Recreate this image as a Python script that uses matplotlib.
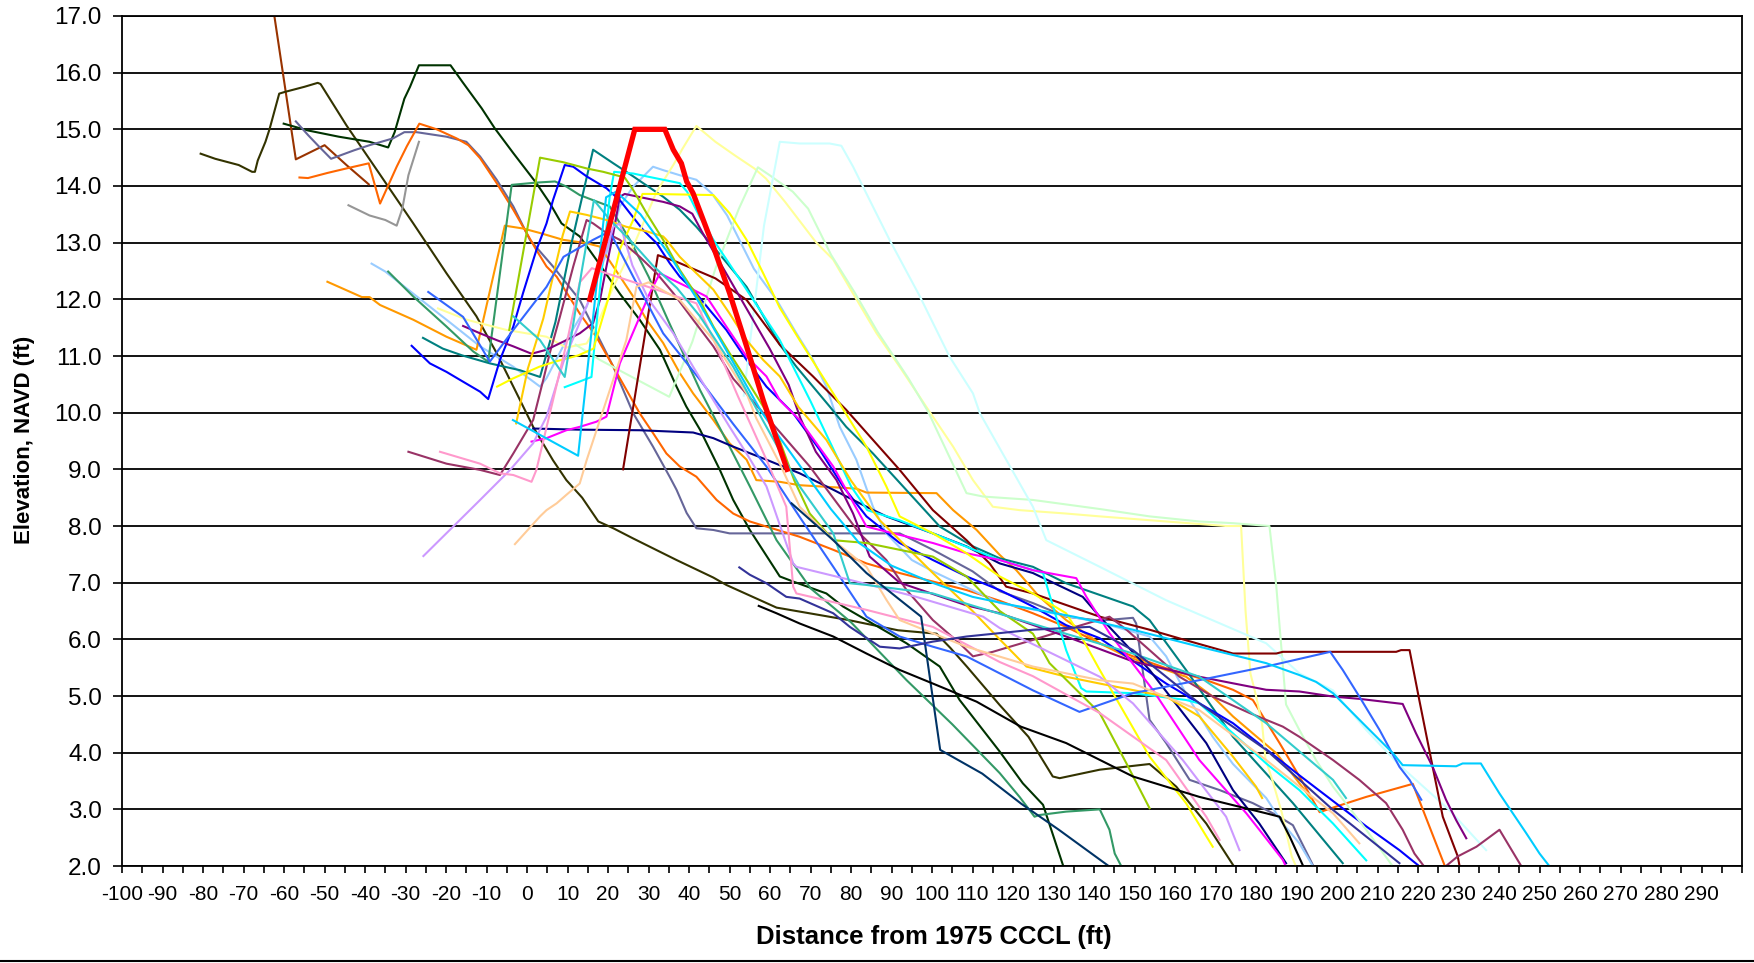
import matplotlib
matplotlib.use("Agg")
import matplotlib.pyplot as plt
from matplotlib.lines import Line2D

plt.rcParams['font.family'] = ['Liberation Sans', 'DejaVu Sans']

# beach profiles: distance from 1975 CCCL (ft) vs elevation NAVD (ft)
p01_x = [-63.0, -62.4, -57.1, -50.0, -44.6, -39.1]
p01_y = [17.4, 17.0, 14.47, 14.72, 14.37, 14.03]

p02_x = [-80.6, -77.0, -71.2, -67.9, -67.2, -66.5, -64.6, -63.6, -61.2, -59.8, -55.0, -51.7, -51.0,
         -44.6, -36.3, -28.1, -19.9, -12.5, -7.5, -1.8, 1.5, 6.4, 9.7, 13.6, 17.6, 21.3, 26.2, 36.9,
         46.0, 49.2, 61.6, 67.3, 79.4, 91.6, 101.1, 104.5, 108.7, 116.7, 123.8, 129.8, 131.5, 141.4,
         151.2, 153.7, 160.3, 167.7, 174.3]
p02_y = [14.57, 14.48, 14.37, 14.25, 14.25, 14.45, 14.78, 15.0, 15.63, 15.66, 15.75, 15.82, 15.8,
         15.07, 14.2, 13.34, 12.46, 11.7, 11.05, 10.23, 9.75, 9.16, 8.81, 8.5, 8.08, 7.96, 7.78, 7.40,
         7.09, 6.96, 6.56, 6.49, 6.34, 6.16, 6.1, 5.85, 5.51, 4.84, 4.28, 3.58, 3.55, 3.7,
         3.78, 3.80, 3.40, 2.75, 2.02]

p03_x = [-60.1, -54.1, -46.5, -38.9, -34.3, -32.7, -30.3, -28.9, -26.7, -18.9, -16.0, -11.2, -8.0,
         -3.4, 2.3, 5.6, 8.5, 13.0, 17.1, 22.9, 27.8, 32.8, 36.9, 39.3, 42.7, 47.6, 50.9, 55.0, 62.4,
         65.7, 73.9, 78.0, 83.8, 93.7, 101.9, 106.8, 116.7, 122.4, 127.4, 132.3]
p03_y = [15.1, 14.98, 14.87, 14.78, 14.68, 14.95, 15.54, 15.75, 16.13, 16.13, 15.84, 15.37, 15.02,
         14.58, 14.05, 13.7, 13.34, 13.11, 12.7, 12.1, 11.64, 11.11, 10.46, 10.11, 9.7, 8.99, 8.46, 7.93, 7.11,
         7.02, 6.81, 6.58, 6.34, 5.93, 5.52, 4.93, 4.02, 3.46, 3.08, 2.02]

p04_x = [-57.1, -54.1, -51.7, -48.4, -46.5, -42.7, -38.9, -33.1, -30.3, -27.3, -19.9, -15.0, -11.6,
         -7.5, -3.4, 0.7, 6.4, 13.0, 16.3, 21.3, 26.2, 31.1, 35.2, 36.9, 39.4, 41.8, 46.0, 50.0, 92.0,
         100.2, 110.0, 116.7, 124.9, 133.1, 141.4, 149.6, 150.4, 153.7, 157.8, 163.6, 171.0, 179.2,
         185.0, 189.1, 194.0]
p04_y = [15.14, 14.9, 14.72, 14.48, 14.53, 14.63, 14.72, 14.84, 14.95, 14.95, 14.87, 14.78, 14.52,
         14.11, 13.64, 13.05, 12.58, 11.99, 11.52, 10.81, 9.99, 9.4, 8.87, 8.64, 8.23, 7.96, 7.93, 7.87, 7.87,
         7.58, 7.2, 6.85, 6.64, 6.4, 6.33, 6.38, 6.28, 4.58, 4.17, 3.52, 3.34, 3.11,
         2.9, 2.72, 2.02]

p05_x = [-56.2, -54.1, -49.3, -44.6, -39.1, -36.3, -32.2, -29.7, -26.6, -22.3, -17.4, -14.5, -11.6,
         -7.5, -3.4, 2.3, 4.8, 7.3, 13.0, 17.1, 21.3, 27.8, 31.1, 34.4, 37.7, 41.8, 46.8, 50.9, 55.0,
         59.1, 67.3, 75.6, 83.8, 92.0, 100.2, 108.5, 116.7, 124.9, 133.1, 141.4, 149.6, 157.8, 167.7,
         174.3, 179.2, 181.7, 185.8, 190.7, 195.7, 199.8, 207.2, 218.7, 226.5]
p05_y = [14.15, 14.14, 14.23, 14.31, 14.4, 13.69, 14.34, 14.7, 15.1, 15.0, 14.84, 14.72, 14.49,
         14.05, 13.58, 12.87, 12.58, 12.4, 11.75, 11.34, 10.81, 9.99, 9.64, 9.28, 9.05, 8.87, 8.46, 8.22, 8.08,
         7.99, 7.81, 7.58, 7.34, 7.17, 7.02, 6.87, 6.68, 6.46, 6.22, 5.93, 5.7, 5.49, 5.28,
         5.11, 4.93, 4.64, 4.17, 3.58, 2.95, 3.05, 3.22, 3.45, 2.02]

p06_x = [-44.1, -38.9, -35.0, -32.2, -30.8, -29.3, -26.7]
p06_y = [13.66, 13.48, 13.4, 13.3, 13.6, 14.19, 14.78]

p07_x = [-38.4, -35.0, -28.1, -19.9, -11.6, -3.4, 3.2, 4.8, 9.7, 14.7, 19.6, 22.9, 26.2, 31.1, 33.6,
         37.7, 41.8, 45.6, 49.4, 56.0, 61.6, 66.5, 70.6, 73.9, 77.2, 81.3, 85.4, 88.7, 95.0, 100.2,
         116.7, 141.4, 153.7, 157.8, 163.0, 169.3, 174.3, 182.5, 186.6, 190.7, 194.0]
p07_y = [12.63, 12.49, 12.1, 11.64, 11.17, 10.81, 10.46, 10.61, 11.28, 11.87, 12.81, 13.64, 13.99, 14.34, 14.28,
         14.19, 14.11, 13.87, 13.48, 12.54, 11.99, 11.4, 10.93, 10.46, 9.75, 9.17, 8.34, 7.87, 7.4, 7.2,
         6.64, 6.3, 6.05, 5.7, 5.0, 4.28, 3.8, 3.2, 2.75, 2.4, 2.0]

p08_x = [-49.3, -40.8, -38.9, -36.3, -28.1, -19.9, -12.5, -5.5, -1.0, 3.2, 8.9, 14.7, 18.0, 21.3, 26.2,
         29.5, 33.6, 37.7, 41.0, 46.0, 50.0, 54.2, 56.6, 62.4, 67.3, 81.3, 83.8, 101.1, 105.2, 111.0,
         116.7, 120.8, 126.5, 133.1, 141.4, 147.9, 155.3, 162.7, 169.3, 174.3, 179.2, 185.0, 190.7, 193.5]
p08_y = [12.31, 12.04, 12.04, 11.9, 11.64, 11.34, 11.11, 13.3, 13.25, 13.17, 13.05, 12.99, 12.93, 12.58, 12.05,
         11.64, 11.23, 10.7, 10.34, 9.87, 9.46, 9.17, 8.81, 8.78, 8.72, 8.66, 8.59, 8.58, 8.28, 7.93,
         7.49, 7.22, 6.75, 6.34, 5.93, 5.7, 5.52, 5.34, 4.99, 4.64, 4.34, 3.99, 3.46, 3.2]

p09_x = [-34.3, -28.1, -19.9, -13.3, -9.6, -3.8, 2.3, 6.9, 9.7, 13.0, 16.3, 20.4, 25.4, 30.0, 35.0,
         42.7, 50.0, 55.0, 61.6, 70.0, 80.0, 93.7, 105.0, 116.7, 121.6, 125.3, 126.5, 133.1, 141.4,
         143.8, 145.1, 146.7]
p09_y = [12.49, 12.05, 11.52, 11.08, 10.9, 14.02, 14.06, 14.08, 13.99, 13.84, 13.75, 13.64, 13.05, 12.4, 11.6,
         10.4, 9.4, 8.7, 7.75, 6.9, 6.3, 5.28, 4.5, 3.64, 3.22, 2.87, 2.9, 2.96, 3.0,
         2.64, 2.22, 2.0]

p10_x = [-25.7, -20.8, -16.0, -9.2, -1.8, 3.2, 7.0, 11.0, 16.3, 21.3, 26.2, 33.6, 37.7, 41.8, 46.0,
         54.2, 62.4, 66.5, 70.6, 74.7, 78.8, 85.4, 101.9, 110.1, 116.7, 124.9, 133.1, 149.6, 153.7,
         162.7, 174.3, 189.1, 201.4]
p10_y = [11.32, 11.13, 11.01, 10.87, 10.75, 10.63, 11.6, 13.0, 14.64, 14.4, 14.17, 13.81, 13.58, 13.28, 12.93,
         12.22, 11.2, 10.81, 10.46, 10.11, 9.75, 9.28, 7.99, 7.64, 7.43, 7.28, 6.99, 6.58, 6.34,
         5.46, 4.28, 3.11, 2.05]

p11_x = [-28.5, -24.0, -19.9, -16.6, -11.6, -9.6, -6.7, -3.4, -1.0, 2.3, 4.8, 6.4, 9.3, 11.4, 14.7,
         19.6, 22.9, 25.4, 28.7, 32.0, 35.2, 37.7, 41.0, 45.1, 49.2, 54.2, 59.1, 65.7, 72.3, 78.0, 83.8,
         92.0, 100.2, 108.5, 116.7, 124.9, 133.1, 141.4, 157.8, 174.3, 190.7, 207.2, 215.4, 219.9]
p11_y = [11.18, 10.87, 10.72, 10.58, 10.37, 10.24, 10.93, 11.52, 12.11, 12.87, 13.34, 13.75, 14.37, 14.34, 14.17,
         13.96, 13.75, 13.52, 13.22, 12.99, 12.64, 12.4, 12.17, 11.81, 11.46, 10.93, 10.46, 9.99, 9.34, 8.7, 8.17,
         7.7, 7.4, 7.11, 6.87, 6.58, 6.25, 6.02, 5.22, 4.52, 3.6, 2.7, 2.28, 2.02]

p12_x = [1.5, 13.0, 27.8, 41.0, 46.0, 50.9, 59.1, 67.3, 75.6, 83.8, 88.7, 100.2, 108.5, 116.7, 124.9,
         137.2, 141.4, 153.7, 167.7, 174.3, 180.8, 187.4]
p12_y = [9.72, 9.7, 9.69, 9.65, 9.55, 9.4, 9.17, 8.93, 8.64, 8.34, 8.17, 7.87, 7.64, 7.34, 7.17,
         6.75, 6.4, 5.46, 4.17, 3.34, 2.75, 2.05]

p13_x = [-22.0, -14.9, -5.1, 4.8, 9.7, 14.7, 17.1, 21.3, 26.2, 32.0, 36.1, 38.4, 41.8, 46.5, 51.3,
         56.1, 59.0, 63.7, 71.3, 75.6, 80.5, 86.3, 92.0, 98.6, 105.2, 110.1, 115.0, 121.6, 133.1, 141.4,
         157.8, 172.6, 176.3, 177.4, 178.6, 180.0, 181.5, 182.3, 184.0, 186.4, 188.8, 189.7]
p13_y = [11.84, 11.64, 11.46, 11.34, 11.15, 11.22, 11.52, 12.22, 12.93, 13.9, 14.37, 14.66, 15.06, 14.78, 14.54,
         14.31, 14.13, 13.72, 13.01, 12.7, 12.1, 11.4, 10.81, 10.1, 9.4, 8.81, 8.34, 8.28, 8.22, 8.17,
         8.08, 8.0, 8.0, 6.5, 5.4, 5.0, 4.5, 3.9, 3.52, 2.93, 2.17, 2.02]

p14_x = [12.0, 18.0, 35.1, 40.8, 46.5, 52.3, 57.0, 59.9, 65.6, 69.4, 75.1, 80.8, 86.5, 94.2, 99.0,
         105.6, 108.5, 112.6, 124.9, 141.4, 153.7, 166.0, 174.3, 183.3, 185.0, 187.4, 190.7, 194.8,
         199.0, 207.2, 213.5]
p14_y = [11.2, 10.93, 10.28, 11.25, 12.54, 13.6, 14.33, 14.19, 13.9, 13.6, 12.78, 12.13, 11.43, 10.6, 10.02,
         9.02, 8.58, 8.52, 8.46, 8.3, 8.17, 8.08, 8.05, 8.0, 6.93, 4.85, 4.4, 3.87,
         3.4, 2.64, 2.02]

p15_x = [53.5, 55.0, 58.5, 62.4, 67.3, 74.7, 77.6, 80.5, 84.6, 89.5, 97.0, 104.3, 110.1, 111.8, 118.3,
         124.9, 128.2, 141.4, 157.8, 182.5, 190.7, 199.0, 207.2, 215.4, 227.7, 236.8]
p15_y = [10.3, 11.22, 13.3, 14.78, 14.75, 14.75, 14.71, 14.34, 13.75, 13.05, 12.05, 10.99, 10.34, 9.99, 9.17,
         8.34, 7.75, 7.28, 6.69, 5.93, 5.4, 5.1, 4.4, 3.78, 2.99, 2.28]

p16_x = [23.7, 32.3, 37.0, 46.5, 54.2, 62.4, 70.6, 78.8, 85.4, 92.0, 100.2, 108.5, 114.2, 118.3, 124.9,
         141.4, 153.7, 161.9, 174.3, 185.0, 186.6, 214.6, 215.8, 217.9, 220.3, 223.6, 226.1, 229.8, 230.5]
p16_y = [9.0, 12.78, 12.66, 12.37, 11.99, 11.2, 10.64, 10.05, 9.52, 8.99, 8.28, 7.75, 7.34, 6.93, 6.81,
         6.4, 6.17, 6.0, 5.75, 5.75, 5.78, 5.78, 5.81, 5.81, 4.93, 3.75, 2.87, 2.17, 1.9]

p17_x = [-29.3, -19.9, -11.6, -6.7, -3.4, 1.5, 4.0, 5.6, 8.1, 11.4, 14.7, 16.3, 19.6, 22.9, 27.8, 32.0,
         36.1, 41.0, 46.0, 50.9, 59.1, 69.8, 77.2, 82.1, 88.7, 93.7, 100.2, 106.8, 110.1, 115.0, 124.9,
         133.1, 143.8, 148.0, 153.7, 161.1, 169.3, 178.4, 186.6, 190.7, 199.0, 205.5, 212.1, 216.2,
         219.1, 221.2]
p17_y = [9.31, 9.1, 8.99, 8.9, 9.28, 9.87, 10.58, 11.05, 11.69, 12.58, 13.4, 13.34, 13.17, 13.05, 12.75, 12.46,
         12.11, 11.64, 11.17, 10.6, 9.93, 9.05, 8.34, 7.87, 7.4, 6.87, 6.34, 5.93, 5.7, 5.78, 5.99,
         6.17, 6.4, 6.17, 5.81, 5.34, 4.99, 4.7, 4.46, 4.28, 3.87, 3.52, 3.11, 2.64,
         2.22, 2.02]

p18_x = [224.5, 226.9, 229.8, 234.4, 240.1, 245.3]
p18_y = [1.85, 2.0, 2.17, 2.34, 2.64, 2.02]

p19_x = [-15.8, -11.6, -7.5, -3.4, 1.1, 4.8, 9.7, 13.0, 16.3, 18.0, 19.6, 21.3, 22.9, 24.1, 29.5, 33.6,
         37.7, 40.8, 43.2, 49.4, 56.1, 59.9, 64.6, 67.5, 71.3, 76.4, 80.5, 84.6, 92.0, 100.2, 108.5,
         116.7, 133.1, 149.6, 166.0, 182.5, 190.7, 199.0, 205.5, 216.2, 219.5, 223.6, 226.9, 229.4, 231.9]
p19_y = [11.53, 11.4, 11.28, 11.17, 11.04, 11.11, 11.28, 11.4, 11.58, 11.99, 12.58, 13.17, 13.81, 13.86, 13.78, 13.72,
         13.64, 13.51, 13.19, 12.43, 11.6, 11.13, 10.49, 9.9, 9.31, 8.81, 8.22, 7.46, 7.0, 6.8, 6.6,
         6.46, 6.05, 5.61, 5.34, 5.11, 5.08, 4.99, 4.95, 4.86, 4.34, 3.75, 3.17, 2.81, 2.49]

p20_x = [9.3, 13.0, 15.9, 18.0, 20.4, 21.5, 26.2, 29.5, 37.7, 39.5, 42.6, 46.0, 54.2, 62.4, 70.0, 76.0,
         80.0, 84.0, 92.0, 100.2, 116.7, 127.4, 133.1, 136.8, 138.1, 149.6, 162.7, 166.0, 174.3, 182.5,
         190.7, 199.0, 207.2]
p20_y = [10.45, 10.55, 10.63, 12.2, 13.81, 14.25, 14.22, 14.17, 14.05, 13.9, 13.46, 13.05, 12.17, 11.28, 10.2, 9.3,
         8.7, 8.28, 8.1, 7.87, 7.4, 7.17, 5.81, 5.14, 5.08, 5.05, 4.93, 4.87, 4.34, 3.81,
         3.34, 2.75, 2.1]

p21_x = [1.1, 4.8, 9.7, 13.0, 17.1, 19.6, 22.9, 27.8, 30.3, 32.8, 36.1, 41.0, 44.3, 49.2, 54.2, 59.1,
         62.4, 67.3, 75.6, 83.8, 87.1, 100.2, 108.5, 116.7, 124.9, 135.6, 138.1, 143.8, 154.5, 166.0,
         177.6, 180.8, 186.6, 187.3]
p21_y = [9.49, 9.55, 9.69, 9.75, 9.84, 9.93, 10.87, 11.69, 12.11, 12.46, 12.34, 12.17, 12.05, 11.52, 10.99, 10.64,
         10.22, 9.87, 9.05, 7.99, 7.93, 7.7, 7.52, 7.4, 7.22, 7.08, 6.75, 6.11, 5.11, 3.87,
         2.93, 2.64, 2.11, 2.0]

p22_x = [-7.4, -3.6, 3.0, 6.9, 12.6, 16.4, 20.0, 23.0, 26.2, 28.5, 30.3, 46.0, 50.0, 54.2, 58.3, 62.4,
         67.3, 75.6, 83.8, 88.7, 92.0, 100.2, 108.5, 116.7, 124.9, 133.1, 137.3, 141.4, 153.7, 162.7, 169.3]
p22_y = [10.46, 10.6, 10.81, 10.9, 11.01, 11.13, 12.0, 12.9, 13.4, 13.86, 13.86, 13.84, 13.52, 13.05, 12.46, 11.85,
         11.28, 10.34, 9.4, 8.7, 8.17, 7.87, 7.52, 7.11, 6.81, 6.46, 5.99, 5.46, 3.93, 3.11, 2.34]

p23_x = [-2.7, 0.2, 4.0, 5.9, 8.8, 10.6, 14.7, 19.6, 24.5, 29.5, 33.6, 34.4, 37.7, 41.8, 46.0, 50.0,
         54.2, 58.3, 62.4, 67.0, 73.9, 80.0, 87.1, 100.2, 110.0, 116.7, 123.3, 133.1, 141.4, 157.8,
         166.0, 174.3, 180.0, 181.5]
p23_y = [9.81, 10.78, 11.66, 12.25, 13.13, 13.55, 13.49, 13.4, 13.28, 13.2, 13.11, 13.05, 12.75, 12.46, 12.17, 11.75,
         11.28, 10.93, 10.64, 10.1, 9.52, 8.8, 8.1, 7.17, 6.5, 6.0, 5.52, 5.34, 5.22, 4.99,
         4.64, 3.93, 3.4, 3.2]

p24_x = [-4.4, 3.2, 8.9, 14.7, 18.8, 24.1, 26.2, 29.5, 33.6, 37.7, 42.6, 46.0, 50.0, 54.2, 58.3, 62.4,
         66.0, 69.8, 75.6, 83.8, 92.0, 100.2, 108.5, 116.7, 124.9, 129.0, 141.4, 148.0, 153.7]
p24_y = [11.46, 14.5, 14.42, 14.31, 14.25, 14.15, 13.93, 13.52, 13.05, 12.52, 11.99, 11.52, 11.05, 10.58, 10.11, 9.5,
         8.8, 8.22, 7.75, 7.7, 7.58, 7.46, 7.11, 6.5, 6.1, 5.58, 4.7, 3.81, 3.02]

p25_x = [-24.4, -15.8, -9.2, -3.4, 4.8, 9.0, 16.3, 20.4, 26.2, 33.6, 42.7, 50.9, 59.1, 67.3, 75.6, 83.8,
         92.0, 100.2, 108.5, 116.7, 124.9, 136.4, 149.6, 166.0, 182.5, 198.3, 201.4, 205.5, 210.5, 215.4,
         217.9, 220.8]
p25_y = [12.13, 11.69, 10.9, 11.46, 12.22, 12.75, 13.05, 13.2, 12.4, 11.4, 10.58, 9.8, 9.05, 8.16, 7.28, 6.4,
         6.05, 5.87, 5.7, 5.4, 5.1, 4.72, 5.05, 5.28, 5.52, 5.78, 5.46, 4.99, 4.4, 3.75,
         3.52, 3.17]

p26_x = [-25.6, -11.6, -4.2, 1.5, 4.8, 9.0, 16.3, 21.3, 22.9, 26.0, 30.0, 36.1, 41.0, 46.0, 50.0, 54.2,
         59.1, 65.7, 66.5, 79.7, 96.1, 112.6, 116.7, 141.4, 149.6, 161.9, 172.6, 175.9]
p26_y = [7.47, 8.46, 8.99, 9.46, 9.93, 10.9, 12.16, 13.28, 13.34, 12.6, 12.0, 11.4, 10.81, 10.22, 9.75, 9.28,
         8.7, 7.34, 7.28, 7.05, 6.75, 6.4, 6.2, 5.34, 4.87, 3.87, 2.87, 2.28]

p27_x = [-21.5, -11.6, -6.7, -3.4, 1.1, 2.3, 6.4, 10.0, 13.0, 16.0, 19.6, 32.0, 41.8, 46.0, 52.0, 59.1,
         64.0, 65.7, 66.5, 83.8, 100.2, 116.7, 124.9, 141.4, 157.8, 167.7, 171.0]
p27_y = [9.31, 9.1, 8.93, 8.9, 8.78, 8.99, 10.22, 11.3, 12.3, 12.55, 12.46, 12.17, 11.93, 11.3, 10.3, 9.17,
         8.34, 6.93, 6.81, 6.52, 6.22, 5.6, 5.35, 4.7, 3.87, 2.87, 2.46]

p28_x = [-3.0, 3.2, 4.8, 7.3, 9.7, 13.0, 14.7, 19.6, 24.5, 27.0, 30.0, 37.7, 46.0, 54.2, 56.6, 62.4,
         67.3, 75.6, 83.8, 88.7, 92.0, 108.5, 124.9, 141.4, 149.6, 166.0, 182.5, 199.0, 205.5]
p28_y = [7.68, 8.17, 8.28, 8.4, 8.55, 8.75, 9.16, 10.22, 11.28, 12.22, 12.3, 11.99, 11.28, 10.34, 9.9, 9.1,
         8.34, 7.75, 7.28, 6.7, 6.34, 5.87, 5.52, 5.28, 5.22, 4.75, 3.87, 2.93, 2.4]

p29_x = [-3.4, 3.2, 9.3, 13.5, 16.5, 20.5, 26.0, 31.0, 37.0, 42.7, 50.9, 59.1, 67.3, 75.6, 79.7, 83.8,
         100.2, 116.7, 133.0, 149.6, 166.0, 182.5, 199.0, 202.2]
p29_y = [11.7, 11.28, 10.63, 12.5, 13.75, 13.4, 13.0, 12.6, 12.2, 11.7, 10.81, 9.75, 8.7, 7.87, 6.99, 6.96,
         6.81, 6.45, 6.1, 5.75, 5.34, 4.52, 3.52, 3.2]

p30_x = [-3.5, 12.6, 19.5, 22.0, 28.0, 35.0, 42.0, 50.0, 58.0, 66.0, 75.0, 82.0, 90.0, 100.0, 110.0,
         120.0, 135.0, 149.6, 166.0, 182.5, 190.7, 194.8, 199.0, 207.2, 213.8, 216.2, 229.4, 231.0, 235.5,
         240.1, 246.7, 250.0, 252.4]
p30_y = [9.87, 9.24, 13.8, 13.9, 13.5, 12.8, 12.0, 11.0, 10.0, 9.2, 8.3, 7.7, 7.3, 7.0, 6.75,
         6.6, 6.4, 6.17, 5.87, 5.58, 5.37, 5.25, 5.05, 4.46, 3.99, 3.78, 3.76, 3.81, 3.81,
         3.28, 2.58, 2.22, 2.0]

p31_x = [65.3, 75.6, 83.8, 92.0, 97.3, 102.0, 112.4, 122.0, 131.3, 143.6]
p31_y = [8.4, 7.75, 7.17, 6.7, 6.4, 4.05, 3.63, 3.1, 2.64, 2.0]

p32_x = [52.4, 55.0, 59.1, 64.0, 67.3, 75.6, 79.7, 87.1, 92.0, 100.2, 108.5, 116.7, 124.9, 133.1, 138.9,
         149.6, 166.0, 182.5, 199.0, 215.4]
p32_y = [7.27, 7.14, 6.99, 6.75, 6.72, 6.46, 6.22, 5.87, 5.84, 5.96, 6.05, 6.11, 6.17, 6.2, 6.22,
         5.81, 4.87, 4.05, 2.99, 2.05]

p33_x = [57.2, 61.6, 67.3, 75.6, 83.8, 92.0, 100.2, 111.0, 121.9, 133.1, 149.6, 166.0, 182.5, 185.8,
         188.3, 191.5]
p33_y = [6.59, 6.46, 6.28, 6.05, 5.75, 5.46, 5.22, 4.9, 4.46, 4.17, 3.58, 3.22, 2.93, 2.87,
         2.52, 2.02]

# proposed dune template
dune_x = [15.5, 26.6, 34.0, 36.1, 38.1, 39.4, 41.0, 46.0, 50.0, 54.2, 58.3, 64.2]
dune_y = [12.0, 15.0, 15.0, 14.64, 14.4, 14.08, 13.87, 12.93, 12.11, 11.17, 10.22, 9.0]

profiles = [
    (p01_x, p01_y, '#993300'), (p02_x, p02_y, '#333300'), (p03_x, p03_y, '#003300'),
    (p04_x, p04_y, '#666699'), (p05_x, p05_y, '#FF6600'), (p06_x, p06_y, '#969696'),
    (p07_x, p07_y, '#99CCFF'), (p08_x, p08_y, '#FF9900'), (p09_x, p09_y, '#339966'),
    (p10_x, p10_y, '#008080'), (p11_x, p11_y, '#0000FF'), (p12_x, p12_y, '#000080'),
    (p13_x, p13_y, '#FFFF99'), (p14_x, p14_y, '#CCFFCC'), (p15_x, p15_y, '#CCFFFF'),
    (p16_x, p16_y, '#800000'), (p17_x, p17_y, '#993366'), (p18_x, p18_y, '#993366'),
    (p19_x, p19_y, '#800080'), (p20_x, p20_y, '#00FFFF'), (p21_x, p21_y, '#FF00FF'),
    (p22_x, p22_y, '#FFFF00'), (p23_x, p23_y, '#FFCC00'), (p24_x, p24_y, '#99CC00'),
    (p25_x, p25_y, '#3366FF'), (p26_x, p26_y, '#CC99FF'), (p27_x, p27_y, '#FF99CC'),
    (p28_x, p28_y, '#FFCC99'), (p29_x, p29_y, '#33CCCC'), (p30_x, p30_y, '#00CCFF'),
    (p31_x, p31_y, '#003366'), (p32_x, p32_y, '#333399'), (p33_x, p33_y, '#000000'),
]

fig = plt.figure(figsize=(17.54, 9.63), dpi=100)
ax = fig.add_axes([0.0696, 0.1007, 0.9236, 0.8827])

for xs, ys, c in profiles:
    ax.plot(xs, ys, color=c, linewidth=1.5)
ax.plot(dune_x, dune_y, color='#FF0000', linewidth=3.8, solid_joinstyle='miter')

ax.set_xlim(-100, 300)
ax.set_ylim(2, 17)

xt = list(range(-100, 301, 5))
ax.set_xticks(xt)
ax.set_xticklabels([str(v) if v % 10 == 0 and v < 300 else '' for v in xt], fontsize=15)
yt = list(range(2, 18))
ax.set_yticks(yt)
ax.set_yticklabels(['%.1f' % v for v in yt], fontsize=17.5)
ax.tick_params(axis='x', direction='out', length=5, width=1.2, pad=9)
ax.tick_params(axis='y', direction='out', length=6.5, width=1.2, pad=8)

ax.set_axisbelow(True)
ax.yaxis.grid(True, color='black', linewidth=1.3)
for s in ax.spines.values():
    s.set_color('black')
    s.set_linewidth(1.3)

fig.text(25 / 1754, 1 - 440 / 963, 'Elevation, NAVD (ft)', rotation=90, fontsize=16,
         fontweight='bold', ha='center', va='center')
fig.text(934 / 1754, 1 - 937 / 963, 'Distance from 1975 CCCL (ft)', fontsize=18.5,
         fontweight='bold', ha='center', va='center')

fig.add_artist(Line2D([0, 1], [0.002, 0.002], transform=fig.transFigure, color='black', linewidth=1.5))

fig.savefig('out.png', dpi=100)
